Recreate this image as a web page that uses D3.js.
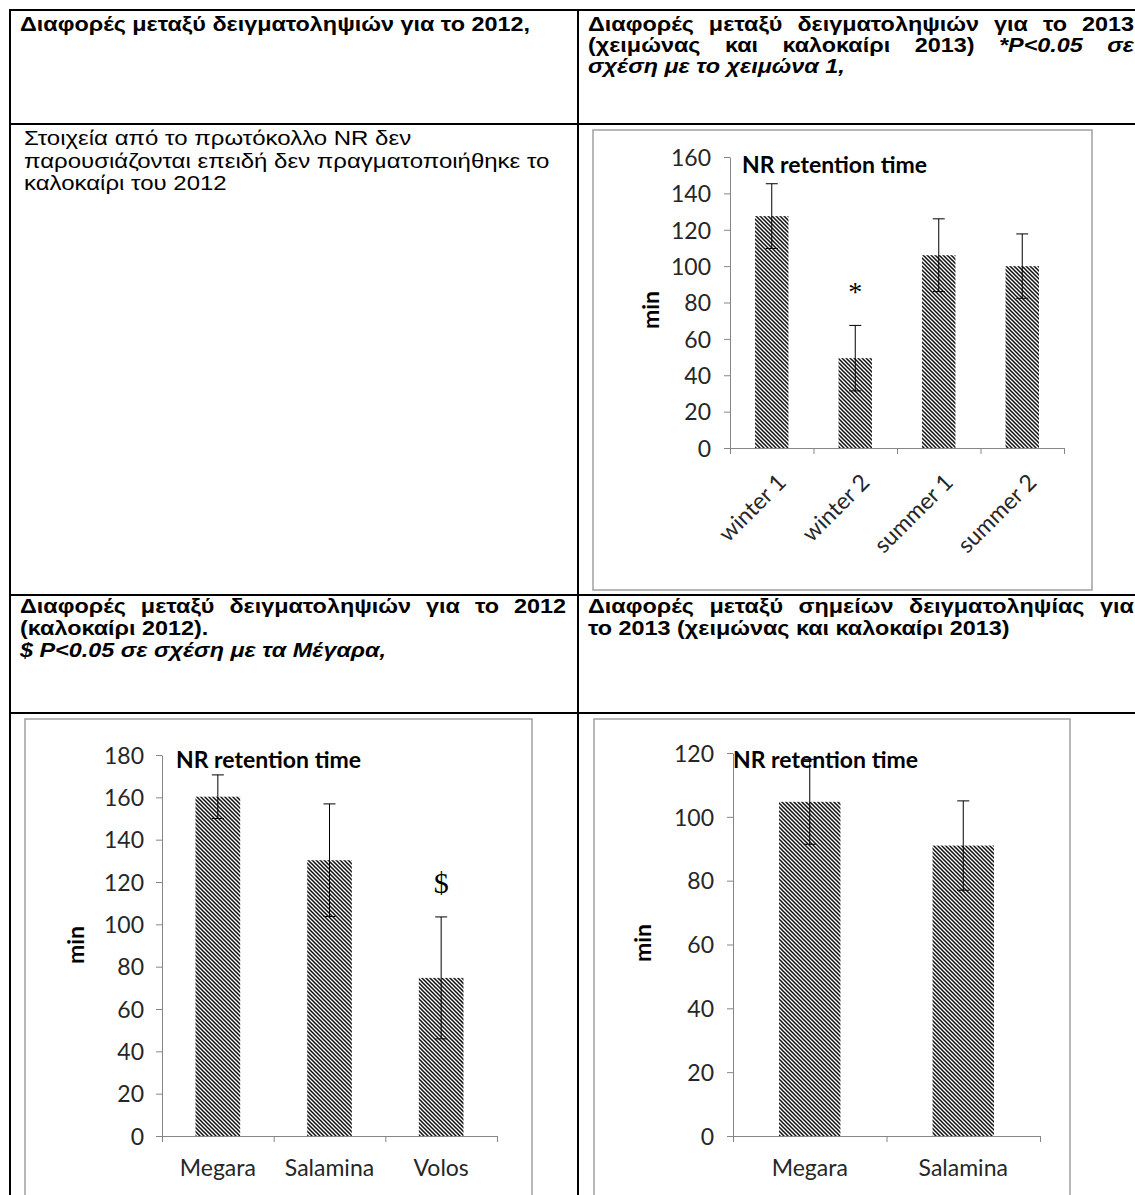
<!DOCTYPE html>
<html>
<head>
<meta charset="utf-8">
<script src="https://cdn.jsdelivr.net/npm/d3@7"></script>
<style>
  body { margin: 0; background: #ffffff; }
  svg { display: block; }
</style>
</head>
<body>
<svg id="page" width="1135" height="1195"></svg>
<script>
// ---- data ----------------------------------------------------------
const seasons = ["winter 1", "winter 2", "summer 1", "summer 2"];
const seasonMeans = [127.5, 49.4, 106, 100];
const seasonErrors = [17.8, 18, 20, 17.7];
const seasonMarks = ["", "*", "", ""];
const seasonTicks = [0, 20, 40, 60, 80, 100, 120, 140, 160];

const sites2012 = ["Megara", "Salamina", "Volos"];
const sites2012Means = [160.3, 130.3, 74.7];
const sites2012Errors = [10.3, 26.6, 28.8];
const sites2012Marks = ["", "", "$"];
const sites2012Ticks = [0, 20, 40, 60, 80, 100, 120, 140, 160, 180];

const sites2013 = ["Megara", "Salamina"];
const sites2013Means = [104.7, 91];
const sites2013Errors = [13.3, 14];
const sites2013Marks = ["", ""];
const sites2013Ticks = [0, 20, 40, 60, 80, 100, 120];

// ---- page set-up ---------------------------------------------------
const S = 1.2;                       // horizontal stretch of the document text
const DOC_FONT = "'Liberation Sans', Arial, sans-serif";
const CHART_FONT = "Lato, 'Open Sans', sans-serif";
const CHART_SIZE = 23;
const svg = d3.select("#page");

const defs = svg.append("defs");
defs.append("pattern")
  .attr("id", "hatch")
  .attr("patternUnits", "userSpaceOnUse")
  .attr("width", 4).attr("height", 4)
  .append("path")
  .attr("d", "M0,0 L1.1,0 L4,2.9 L4,4 L2.9,4 L0,1.1 Z M2.9,0 L4,0 L4,1.1 Z M0,2.9 L0,4 L1.1,4 Z")
  .attr("fill", "#111");

// ---- table grid ----------------------------------------------------
const table = svg.append("g").attr("class", "table");
[10, 124, 595, 713].forEach(y => {
  table.append("line").attr("x1", 9).attr("x2", 1135).attr("y1", y).attr("y2", y)
    .attr("stroke", "#000").attr("stroke-width", 2);
});
[10, 578].forEach(x => {
  table.append("line").attr("x1", x).attr("x2", x).attr("y1", 9).attr("y2", 1195)
    .attr("stroke", "#000").attr("stroke-width", 2);
});

// ---- text helpers ----------------------------------------------------
function styled(sel, w) {
  return sel.attr("font-family", DOC_FONT)
    .attr("font-size", w.size)
    .attr("font-weight", w.bold ? "bold" : "normal")
    .attr("font-style", w.italic ? "italic" : "normal")
    .attr("fill", "#000");
}

// one line made of runs, left aligned
function line(g, x, y, runs, base) {
  const t = g.append("text").attr("transform", `translate(${x},${y}) scale(${S},1)`);
  styled(t, base);
  runs.forEach(r => {
    t.append("tspan").attr("font-style", r.italic ? "italic" : "normal").text(r.t);
  });
  return t;
}

// one line whose words are spread between x0 and x1
function justified(g, x0, x1, y, words, base) {
  const nodes = words.map(w => {
    const t = g.append("text");
    styled(t, Object.assign({}, base, { italic: w.italic }));
    t.text(w.t);
    return { t, w: t.node().getComputedTextLength() * S };
  });
  const total = d3.sum(nodes, n => n.w);
  const gap = (x1 - x0 - total) / (nodes.length - 1);
  let x = x0;
  nodes.forEach(n => {
    n.t.attr("transform", `translate(${x},${y}) scale(${S},1)`);
    x += n.w + gap;
  });
}
const W = (s, italic) => s.split(" ").map(t => ({ t, italic: !!italic }));

const text = svg.append("g").attr("class", "cells");
const head = { size: 19.5, bold: true };
const body = { size: 20, bold: false };

line(text, 20, 31, [{ t: "Διαφορές μεταξύ δειγματοληψιών για το 2012," }], head);

justified(text, 588, 1134, 31, W("Διαφορές μεταξύ δειγματοληψιών για το 2013"), head);
justified(text, 588, 1134, 52, W("(χειμώνας και καλοκαίρι 2013)").concat(W("*P<0.05 σε", true)), head);
line(text, 588, 73, [{ t: "σχέση με το χειμώνα 1,", italic: true }], head);

line(text, 24, 145, [{ t: "Στοιχεία από το πρωτόκολλο NR δεν" }], body);
line(text, 24, 167.5, [{ t: "παρουσιάζονται επειδή δεν πραγματοποιήθηκε το" }], body);
line(text, 24, 190, [{ t: "καλοκαίρι του 2012" }], body);

justified(text, 20, 566, 613, W("Διαφορές μεταξύ δειγματοληψιών για το 2012"), head);
line(text, 20, 635, [{ t: "(καλοκαίρι 2012)." }], head);
line(text, 20, 657, [{ t: "$ P<0.05 σε σχέση με τα Μέγαρα,", italic: true }], head);

justified(text, 588, 1134, 613, W("Διαφορές μεταξύ σημείων δειγματοληψίας για"), head);
line(text, 588, 635, [{ t: "το 2013 (χειμώνας και καλοκαίρι 2013)" }], head);

// ---- bar chart with error bars ----------------------------------------
function barChart(cfg) {
  const g = svg.append("g");
  const { frame, plot } = cfg;

  g.append("rect")
    .attr("x", frame.x0).attr("y", frame.y0)
    .attr("width", frame.x1 - frame.x0).attr("height", frame.y1 - frame.y0)
    .attr("fill", "#fff").attr("stroke", "#a0a0a0").attr("stroke-width", 1.5);

  const y = d3.scaleLinear().domain([0, d3.max(cfg.ticks)]).range([plot.y0, plot.y1]);
  const x = d3.scaleBand().domain(cfg.cats).range([plot.x0, plot.x1])
    .paddingInner(0.6).paddingOuter(0.3);

  // bars
  g.append("g").selectAll("rect").data(cfg.cats).join("rect")
    .attr("x", d => x(d)).attr("width", x.bandwidth())
    .attr("y", (d, i) => y(cfg.means[i]))
    .attr("height", (d, i) => y(0) - y(cfg.means[i]))
    .attr("fill", "url(#hatch)");

  // value axis
  const ya = g.append("g").attr("transform", `translate(${plot.x0},0)`)
    .call(d3.axisLeft(y).tickValues(cfg.ticks).tickSize(6).tickSizeOuter(0)
      .tickPadding(cfg.tickPad).tickFormat(d3.format("d")));
  ya.select(".domain").attr("stroke", "#868686");
  ya.selectAll(".tick line").attr("stroke", "#868686");
  ya.selectAll(".tick text")
    .attr("font-family", CHART_FONT).attr("font-size", CHART_SIZE).attr("fill", "#262626")
    .attr("dy", "0.36em");

  // category boundary ticks
  const xb = d3.scaleLinear().domain([0, cfg.cats.length]).range([plot.x0, plot.x1]);
  const xa = g.append("g").attr("transform", `translate(0,${plot.y0})`)
    .call(d3.axisBottom(xb).tickValues(d3.range(cfg.cats.length + 1))
      .tickSize(6).tickSizeOuter(0).tickFormat(""));
  xa.select(".domain").attr("stroke", "#868686");
  xa.selectAll(".tick line").attr("stroke", "#868686");

  // category labels
  const xl = g.append("g").attr("transform", `translate(0,${plot.y0})`)
    .call(d3.axisBottom(x).tickSize(0).tickPadding(0));
  xl.select(".domain").remove();
  xl.selectAll(".tick text")
    .attr("font-family", CHART_FONT).attr("font-size", CHART_SIZE).attr("fill", "#262626")
    .attr("y", 0)
    .each(function () {
      const t = d3.select(this);
      if (cfg.rotate) {
        t.attr("text-anchor", "end").attr("dy", "0.35em")
          .attr("transform", `translate(${cfg.labelDx},${cfg.labelDy}) rotate(-45)`);
      } else {
        t.attr("dy", "0.71em").attr("transform", `translate(0,${cfg.labelDy})`);
      }
    });

  // error bars
  const eb = g.append("g").attr("stroke", "#000").attr("stroke-width", 1).attr("fill", "none");
  cfg.cats.forEach((c, i) => {
    const cx = x(c) + x.bandwidth() / 2;
    const hi = y(cfg.means[i] + cfg.errs[i]);
    const lo = y(cfg.means[i] - cfg.errs[i]);
    eb.append("line").attr("x1", cx).attr("x2", cx).attr("y1", hi).attr("y2", lo);
    eb.append("line").attr("x1", cx - 6).attr("x2", cx + 6).attr("y1", hi).attr("y2", hi);
    eb.append("line").attr("x1", cx - 6).attr("x2", cx + 6).attr("y1", lo).attr("y2", lo);
  });

  // significance marks
  cfg.cats.forEach((c, i) => {
    if (!cfg.marks[i]) return;
    const cx = x(c) + x.bandwidth() / 2;
    g.append("text")
      .attr("x", cx).attr("y", y(cfg.means[i] + cfg.errs[i]) - 24)
      .attr("text-anchor", "middle")
      .attr("font-family", "'Liberation Serif', 'Times New Roman', serif")
      .attr("font-size", cfg.marks[i] === "$" ? 30 : 28)
      .attr("fill", "#000")
      .text(cfg.marks[i]);
  });

  // axis title and chart title
  g.append("text")
    .attr("transform", `translate(${cfg.minPos[0]},${cfg.minPos[1]}) rotate(-90)`)
    .attr("text-anchor", "middle").attr("dy", "0.35em")
    .attr("font-family", CHART_FONT).attr("font-size", CHART_SIZE).attr("font-weight", "bold")
    .attr("fill", "#000").text("min");
  g.append("text")
    .attr("x", cfg.titlePos[0]).attr("y", cfg.titlePos[1])
    .attr("font-family", CHART_FONT).attr("font-size", CHART_SIZE).attr("font-weight", "bold")
    .attr("fill", "#000").text("NR retention time");
}

barChart({
  cats: seasons, means: seasonMeans, errs: seasonErrors, marks: seasonMarks, ticks: seasonTicks,
  frame: { x0: 593, y0: 130, x1: 1092, y1: 590 },
  plot: { x0: 730, x1: 1064, y0: 448, y1: 157 },
  tickPad: 13, rotate: true, labelDx: 10, labelDy: 30,
  minPos: [651, 310], titlePos: [742, 173]
});

barChart({
  cats: sites2012, means: sites2012Means, errs: sites2012Errors, marks: sites2012Marks, ticks: sites2012Ticks,
  frame: { x0: 25, y0: 719, x1: 532, y1: 1200 },
  plot: { x0: 162, x1: 497, y0: 1136, y1: 755 },
  tickPad: 12, rotate: false, labelDy: 24,
  minPos: [76, 945], titlePos: [176, 768]
});

barChart({
  cats: sites2013, means: sites2013Means, errs: sites2013Errors, marks: sites2013Marks, ticks: sites2013Ticks,
  frame: { x0: 594, y0: 719, x1: 1070, y1: 1200 },
  plot: { x0: 733, x1: 1040, y0: 1136, y1: 753 },
  tickPad: 13, rotate: false, labelDy: 24,
  minPos: [643, 943], titlePos: [733, 768]
});
</script>
</body>
</html>
